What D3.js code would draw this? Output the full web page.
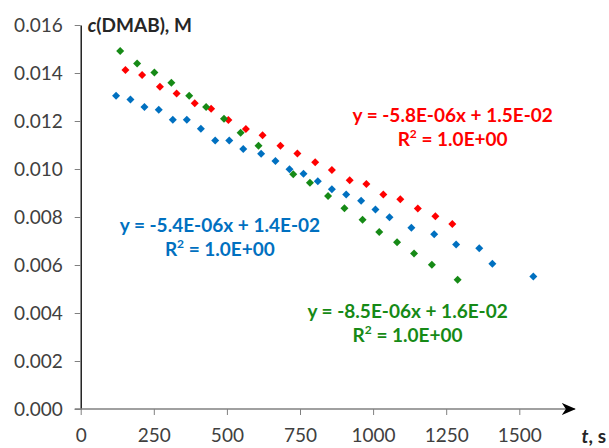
<!DOCTYPE html>
<html>
<head>
<meta charset="utf-8">
<script src="https://cdn.jsdelivr.net/npm/d3@7"></script>
<style>
  body { margin: 0; background: #fff; }
  text { font-family: Lato, "Open Sans", sans-serif; }
</style>
</head>
<body>
<svg id="plot"></svg>
<script>
// Time (s) and concentration (M) for each run
const blueT = [121, 170, 218, 267, 315, 363, 411, 460, 508, 556, 617, 666, 714, 762, 811, 859, 908, 959, 1008, 1056, 1131, 1209, 1284, 1363, 1408, 1548];
const blueC = [0.01305, 0.01290, 0.01258, 0.01247, 0.01205, 0.01205, 0.01168, 0.01119, 0.01119, 0.01083, 0.01064, 0.01033, 0.00999, 0.00980, 0.00949, 0.00916, 0.00894, 0.00868, 0.00831, 0.00799, 0.00755, 0.00728, 0.00685, 0.00670, 0.00605, 0.00552];

const redT = [153, 210, 271, 328, 390, 446, 505, 565, 622, 683, 741, 802, 859, 920, 977, 1035, 1093, 1153, 1213, 1271];
const redC = [0.01413, 0.01392, 0.01343, 0.01315, 0.01274, 0.01251, 0.01204, 0.01167, 0.01141, 0.01097, 0.01065, 0.01028, 0.00996, 0.00953, 0.00937, 0.00894, 0.00874, 0.00835, 0.00803, 0.00771];

const greenT = [135, 193, 252, 310, 371, 429, 490, 547, 608, 727, 784, 846, 902, 964, 1021, 1082, 1140, 1201, 1289];
const greenC = [0.01492, 0.01440, 0.01402, 0.01359, 0.01305, 0.01258, 0.01209, 0.01151, 0.01097, 0.00978, 0.00943, 0.00888, 0.00836, 0.00789, 0.00738, 0.00695, 0.00648, 0.00601, 0.00539];

const xTicks = [0, 250, 500, 750, 1000, 1250, 1500];
const yTicks = [0, 0.002, 0.004, 0.006, 0.008, 0.010, 0.012, 0.014, 0.016];

const eqTexts = ["y = -5.4E-06x + 1.4E-02", "y = -5.8E-06x + 1.5E-02", "y = -8.5E-06x + 1.6E-02"];
const r2Texts = ["1.0E+00", "1.0E+00", "1.0E+00"];

// Series styling and where the trendline labels sit (in data units)
const series = [
  { t: blueT, c: blueC, color: "#0070c0", labelT: 476, labelC: 0.00738 },
  { t: redT, c: redC, color: "#ff0000", labelT: 1272, labelC: 0.01196 },
  { t: greenT, c: greenC, color: "#168a16", labelT: 1118, labelC: 0.00380 }
];

const width = 609, height = 448;
const svg = d3.select("#plot")
    .attr("width", width)
    .attr("height", height);

// Scales
const x = d3.scaleLinear().domain([0, 1500]).range([80.7, 519.3]);
const y = d3.scaleLinear().domain([0, 0.016]).range([409, 25]);

// y axis
const yAxis = svg.append("g")
    .attr("transform", "translate(" + x(0) + ",0)")
    .call(d3.axisLeft(y).tickValues(yTicks).tickFormat(d3.format(".3f"))
      .tickSize(6).tickSizeOuter(0).tickPadding(12));
yAxis.select(".domain").attr("stroke", "#000").attr("stroke-width", 1.3);
yAxis.selectAll(".tick line").attr("stroke", "#808080");
yAxis.selectAll(".tick text")
    .attr("fill", "#404040")
    .style("font-size", "19px")
    .style("font-family", "Lato, sans-serif");

// x axis
const xAxis = svg.append("g")
    .attr("transform", "translate(0," + y(0) + ")")
    .call(d3.axisBottom(x).tickValues(xTicks).tickFormat(d3.format("d"))
      .tickSize(6).tickSizeOuter(0).tickPadding(14));
xAxis.select(".domain").remove();
xAxis.selectAll(".tick line").attr("stroke", "#808080");
xAxis.selectAll(".tick text")
    .attr("fill", "#404040")
    .style("font-size", "19px")
    .style("font-family", "Lato, sans-serif");

// x axis line with arrow head
svg.append("defs").append("marker")
    .attr("id", "arrow")
    .attr("viewBox", "0 0 14 12")
    .attr("refX", 13)
    .attr("refY", 6)
    .attr("markerWidth", 14)
    .attr("markerHeight", 12)
    .attr("markerUnits", "userSpaceOnUse")
    .attr("orient", "auto")
  .append("path")
    .attr("d", "M0,0 L14,6 L0,12 L4,6 Z")
    .attr("fill", "#000");

svg.append("line")
    .attr("x1", x(0) - 6)
    .attr("x2", x(1690))
    .attr("y1", y(0))
    .attr("y2", y(0))
    .attr("stroke", "#808080")
    .attr("stroke-width", 1.3)
    .attr("marker-end", "url(#arrow)");

// Axis titles
const yTitle = svg.append("text")
    .attr("x", x(0) + 7)
    .attr("y", y(0.016) + 7)
    .style("font-size", "19px")
    .style("font-weight", "bold")
    .attr("fill", "#262626");
yTitle.append("tspan").style("font-style", "italic").text("c");
yTitle.append("tspan").text("(DMAB), M");

const xTitle = svg.append("text")
    .attr("x", 606)
    .attr("y", 443)
    .attr("text-anchor", "end")
    .style("font-size", "19px")
    .style("font-weight", "bold")
    .attr("fill", "#262626");
xTitle.append("tspan").style("font-style", "italic").text("t");
xTitle.append("tspan").text(", s");

// Points
const diamond = d3.symbol().type(d3.symbolSquare).size(32);
series.forEach(function(s) {
  svg.append("g")
    .selectAll("path")
    .data(s.t.map((t, i) => [t, s.c[i]]))
    .enter().append("path")
    .attr("d", diamond)
    .attr("transform", d => "translate(" + x(d[0]) + "," + y(d[1]) + ") rotate(45)")
    .attr("fill", s.color);
});

// Trendline equations
series.forEach(function(s, i) {
  const g = svg.append("g")
      .attr("fill", s.color)
      .style("font-size", "19px")
      .style("font-weight", "bold")
      .attr("text-anchor", "middle");
  g.append("text")
      .attr("x", x(s.labelT))
      .attr("y", y(s.labelC))
      .text(eqTexts[i]);
  const r2 = g.append("text")
      .attr("x", x(s.labelT))
      .attr("y", y(s.labelC) + 24);
  r2.append("tspan").text("R");
  r2.append("tspan").attr("dy", -8).style("font-size", "12px").text("2");
  r2.append("tspan").attr("dy", 8).text(" = " + r2Texts[i]);
});
</script>
</body>
</html>
